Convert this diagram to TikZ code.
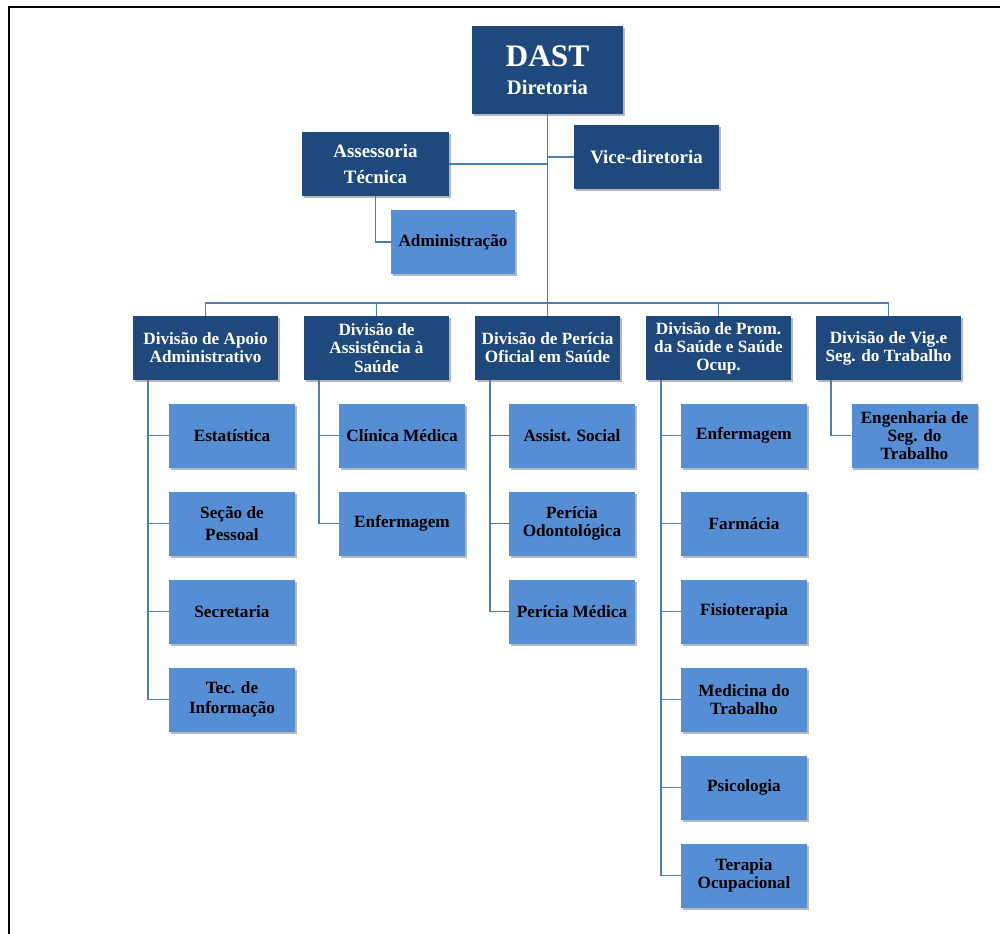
\documentclass[tikz,border=0pt]{standalone}
\usepackage{fontspec}
\setmainfont{Liberation Serif}
\usetikzlibrary{shadows}
\definecolor{navy}{HTML}{1F497D}
\definecolor{sky}{HTML}{558ED5}
\definecolor{wire}{HTML}{4A7EBB}
\tikzset{
  box/.style={rectangle, align=center, inner sep=2pt,
    font=\bfseries\fontsize{12.9}{13.6}\selectfont,
    drop shadow={shadow xshift=1.2pt, shadow yshift=-1.5pt, opacity=0.28, fill=black}},
  headbox/.style={box, fill=navy, text=white},
  unitbox/.style={box, fill=sky, text=black},
  divbox/.style={headbox, minimum width=108.75pt, minimum height=48pt},
  leafbox/.style={unitbox, minimum width=94.5pt, minimum height=48pt},
  wireline/.style={draw=wire, line width=1.45pt},
}
\begin{document}
\begin{tikzpicture}[x=0.75pt, y=-0.75pt]
\useasboundingbox (0,0) rectangle (1000,934);

% outer frame (top and left edges)
\draw[line width=1.5pt, line cap=rect] (1000,7) -- (8.5,7) -- (8.5,934);

% top management
\node[headbox, minimum width=113.25pt, minimum height=66pt,
  font=\bfseries\fontsize{15.5}{21}\selectfont] (dast) at (547.5,70)
  {{\fontsize{23.5}{24}\selectfont DAST}\\Diretoria};
\node[headbox, minimum width=110.25pt, minimum height=48pt,
  font=\bfseries\fontsize{14.2}{20}\selectfont] (ass) at (375.5,164) {Assessoria\\Técnica};
\node[headbox, minimum width=108.75pt, minimum height=48pt,
  font=\bfseries\fontsize{14.2}{16}\selectfont] (vice) at (646.5,157) {Vice-diretoria};
\node[unitbox, minimum width=93pt, minimum height=48pt] (adm) at (453,242) {Administração};

% divisions
\node[divbox] (d1) at (205.5,348) {Divisão de Apoio\\Administrativo};
\node[divbox] (d2) at (376.5,348) {Divisão de\\Assistência à\\Saúde};
\node[divbox] (d3) at (547.5,348) {Divisão de Perícia\\Oficial em Saúde};
\node[divbox] (d4) at (718.5,348) {Divisão de Prom.\\da Saúde e Saúde\\Ocup.};
\node[divbox] (d5) at (888.5,348) {Divisão de Vig.e\\Seg. do Trabalho};

% units of the administrative support division
\node[leafbox] (a1) at (232,435.5) {Estatística};
\node[leafbox, font=\bfseries\fontsize{12.9}{17}\selectfont] (a2) at (232,523.5) {Seção de\\Pessoal};
\node[leafbox] (a3) at (232,611.5) {Secretaria};
\node[leafbox, font=\bfseries\fontsize{12.9}{15}\selectfont] (a4) at (232,699.5) {Tec. de\\Informação};

% units of the health care division
\node[leafbox] (b1) at (402,435.5) {Clínica Médica};
\node[leafbox] (b2) at (402,523.5) {Enfermagem};

% units of the official expertise division
\node[leafbox] (c1) at (572,435.5) {Assist. Social};
\node[leafbox] (c2) at (572,523.5) {Perícia\\Odontológica};
\node[leafbox] (c3) at (572,611.5) {Perícia Médica};

% units of the health promotion division
\node[leafbox] (e1) at (744,435.5) {Enfermagem};
\node[leafbox] (e2) at (744,523.5) {Farmácia};
\node[leafbox] (e3) at (744,611.5) {Fisioterapia};
\node[leafbox] (e4) at (744,699.5) {Medicina do\\Trabalho};
\node[leafbox] (e5) at (744,787.5) {Psicologia};
\node[leafbox] (e6) at (744,875.5) {Terapia\\Ocupacional};

% unit of the work safety division
\node[leafbox] (f1) at (914.5,435.5) {Engenharia de\\Seg. do\\Trabalho};

% connectors
\coordinate (bar) at (547.5,303);
\draw[wireline] (dast.south) -- (d3.north);
\draw[wireline] (ass.east) -- (ass.east -| dast.south);
\draw[wireline] (vice.west) -- (vice.west -| dast.south);
\draw[wireline] (ass.south) |- (adm.west);
\draw[wireline] (d1.north) |- (bar) -| (d5.north);
\draw[wireline] (d2.north) -- (d2.north |- bar);
\draw[wireline] (d4.north) -- (d4.north |- bar);

\coordinate (s1) at ([xshift=11.6pt]d1.south west);
\coordinate (s2) at ([xshift=11.6pt]d2.south west);
\coordinate (s3) at ([xshift=11.6pt]d3.south west);
\coordinate (s4) at ([xshift=11.6pt]d4.south west);
\coordinate (s5) at ([xshift=11.6pt]d5.south west);
\foreach \u in {a1,a2,a3,a4} \draw[wireline] (s1) |- (\u.west);
\foreach \u in {b1,b2} \draw[wireline] (s2) |- (\u.west);
\foreach \u in {c1,c2,c3} \draw[wireline] (s3) |- (\u.west);
\foreach \u in {e1,e2,e3,e4,e5,e6} \draw[wireline] (s4) |- (\u.west);
\draw[wireline] (s5) |- (f1.west);
\end{tikzpicture}
\end{document}
